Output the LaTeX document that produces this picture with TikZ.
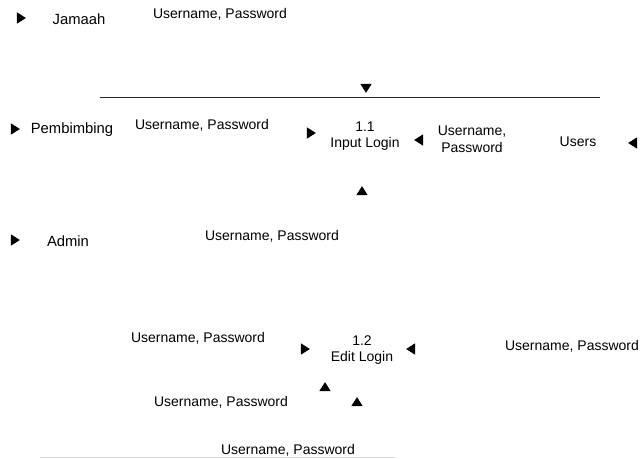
\documentclass[tikz,border=0pt]{standalone}
\usepackage{fontspec}
\setmainfont{Liberation Sans}
\usetikzlibrary{shapes.geometric}
\begin{document}
\begin{tikzpicture}[x=1pt,y=-1pt,
  lbl/.style={inner sep=0pt,font=\fontsize{14}{16.5}\selectfont,align=center},
  ent/.style={inner sep=0pt,font=\fontsize{14.8}{17.5}\selectfont},
  tip/.style={isosceles triangle,isosceles triangle apex angle=65,fill=black,inner sep=0pt,minimum height=9pt,minimum width=7pt},
  tipR/.style={tip,shape border rotate=0},
  tipL/.style={tip,shape border rotate=180},
  tipU/.style={tip,shape border rotate=90},
  tipD/.style={tip,shape border rotate=270}]
\useasboundingbox (0,0) rectangle (644,458);
% top row
\node[tipR] (t1) at (20,18) {};
\node[ent] (jamaah) at (79,19) {Jamaah};
\node[lbl] (f1) at (220,14) {Username, Password};
\node[tipD] (t2) at (366,87) {};
\coordinate (l1a) at (100,97);
\coordinate (l1b) at (600,97);
\draw[line width=0.9pt,black!85] (l1a) -- (l1b);
% second row
\node[tipR] (t3) at (14,129) {};
\node[ent] (pemb) at (72,130) {Pembimbing};
\node[lbl] (f2) at (202,125) {Username, Password};
\node[tipR] (t4) at (310,133) {};
\node[lbl] (p11) at (365,136) {1.1\\Input Login};
\node[tipL] (t5) at (420,140) {};
\node[lbl] (f3) at (472,139) {Username,\\Password};
\node[lbl] (users) at (578,142) {Users};
\node[tipL] (t6) at (634,143) {};
\node[tipU] (t7) at (362,192) {};
% admin
\node[tipR] (t8) at (14,240) {};
\node[ent] (admin) at (68,241) {Admin};
\node[lbl] (f4) at (272,236) {Username, Password};
% lower
\node[lbl] (f5) at (198,338) {Username, Password};
\node[tipR] (t9) at (304,349) {};
\node[lbl] (p12) at (362,350) {1.2\\Edit Login};
\node[tipL] (t10) at (412,349) {};
\node[lbl] (f6) at (572,346) {Username, Password};
\node[tipU] (t11) at (325,388) {};
\node[lbl] (f7) at (221,402) {Username, Password};
\node[tipU] (t12) at (357,403) {};
\node[lbl] (f8) at (288,450) {Username, Password};
\coordinate (l2a) at (40,457);
\coordinate (l2b) at (395,457);
\draw[line width=1pt,black!15] (l2a) -- (l2b);
\end{tikzpicture}
\end{document}
